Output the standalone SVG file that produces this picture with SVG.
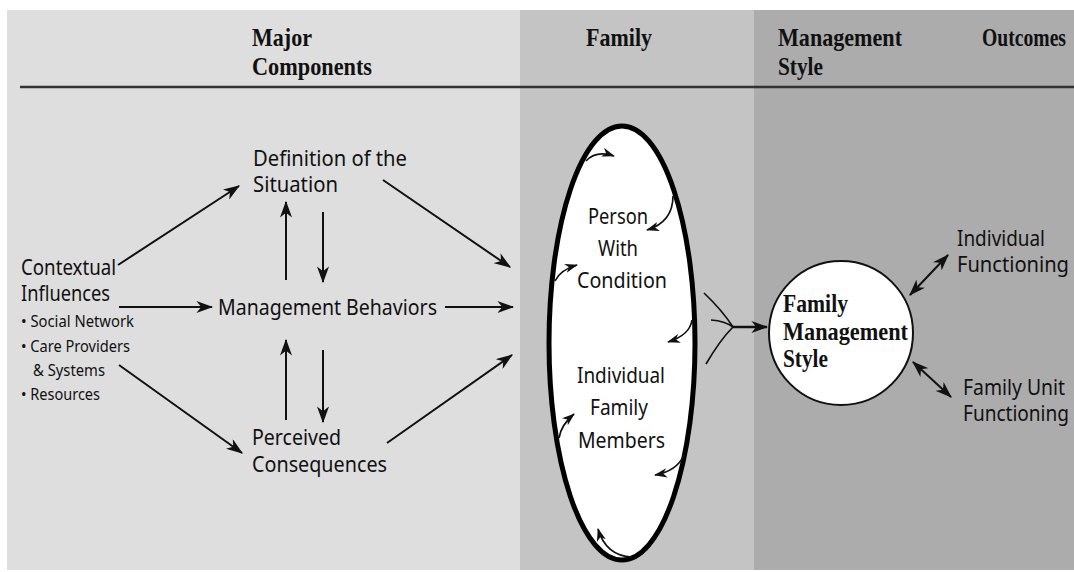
<svg xmlns="http://www.w3.org/2000/svg" width="1074" height="572" viewBox="0 0 1074 572">
<defs>
<style>
.hd{font-family:"Liberation Serif","Times New Roman",serif;font-weight:bold;font-size:26px;fill:#111}
.tx{font-family:"Noto Sans","Open Sans",sans-serif;font-size:21px;fill:#111}
.sm{font-family:"Noto Sans","Open Sans",sans-serif;font-size:16.5px;fill:#111}
.ln{stroke:#111;stroke-width:2;fill:none}
.cv{stroke:#111;stroke-width:1.7;fill:none}
</style>
<marker id="ah" viewBox="0 0 14 10" refX="13" refY="5" markerWidth="17" markerHeight="12" orient="auto-start-reverse" markerUnits="userSpaceOnUse"><path d="M0,0 L14,5 L0,10 L4,5 z" fill="#111"/></marker>
<marker id="as" viewBox="0 0 14 10" refX="13" refY="5" markerWidth="13" markerHeight="9.5" orient="auto" markerUnits="userSpaceOnUse"><path d="M0,0 L14,5 L0,10 L4,5 z" fill="#111"/></marker>
</defs>
<rect x="0" y="0" width="1074" height="572" fill="#ffffff"/>
<rect x="7" y="10" width="513" height="560" fill="#dedede"/>
<rect x="520" y="10" width="234" height="560" fill="#c4c4c4"/>
<rect x="754" y="10" width="320" height="560" fill="#acacac"/>
<line x1="20" y1="87" x2="1074" y2="87" stroke="#333" stroke-width="2.5"/>

<g id="headers">
<text class="hd" x="252" y="46" textLength="60" lengthAdjust="spacingAndGlyphs">Major</text>
<text class="hd" x="252" y="75" textLength="120" lengthAdjust="spacingAndGlyphs">Components</text>
<text class="hd" x="586" y="46" textLength="66" lengthAdjust="spacingAndGlyphs">Family</text>
<text class="hd" x="778" y="46" textLength="124" lengthAdjust="spacingAndGlyphs">Management</text>
<text class="hd" x="778" y="75" textLength="45" lengthAdjust="spacingAndGlyphs">Style</text>
<text class="hd" x="0" y="0" transform="translate(982 46) scale(1 1.24)" style="font-size:21px" textLength="84" lengthAdjust="spacingAndGlyphs">Outcomes</text>
</g>

<g id="contextual">
<text class="tx" x="21" y="275" textLength="95" lengthAdjust="spacingAndGlyphs">Contextual</text>
<text class="tx" x="21" y="301" textLength="89" lengthAdjust="spacingAndGlyphs">Influences</text>
<text class="sm" x="21" y="327" textLength="113" lengthAdjust="spacingAndGlyphs">• Social Network</text>
<text class="sm" x="21" y="352" textLength="109" lengthAdjust="spacingAndGlyphs">• Care Providers</text>
<text class="sm" x="33" y="376" textLength="72" lengthAdjust="spacingAndGlyphs">&amp; Systems</text>
<text class="sm" x="21" y="400" textLength="79" lengthAdjust="spacingAndGlyphs">• Resources</text>
</g>
<g id="definition">
<text class="tx" x="253" y="166" textLength="154" lengthAdjust="spacingAndGlyphs">Definition of the</text>
<text class="tx" x="253" y="192" textLength="85" lengthAdjust="spacingAndGlyphs">Situation</text>
</g>
<g id="behaviors">
<text class="tx" x="218" y="315" textLength="219" lengthAdjust="spacingAndGlyphs">Management Behaviors</text>
</g>
<g id="consequences">
<text class="tx" x="252" y="445" textLength="89" lengthAdjust="spacingAndGlyphs">Perceived</text>
<text class="tx" x="252" y="472" textLength="135" lengthAdjust="spacingAndGlyphs">Consequences</text>
</g>

<g id="family">
<ellipse cx="622" cy="343" rx="73" ry="217" fill="#ffffff" stroke="#000" stroke-width="5"/>
<text class="tx" x="588" y="224" textLength="60" lengthAdjust="spacingAndGlyphs">Person</text>
<text class="tx" x="598" y="256" textLength="40" lengthAdjust="spacingAndGlyphs">With</text>
<text class="tx" x="577" y="288" textLength="90" lengthAdjust="spacingAndGlyphs">Condition</text>
<text class="tx" x="577" y="383" textLength="88" lengthAdjust="spacingAndGlyphs">Individual</text>
<text class="tx" x="590" y="415" textLength="58" lengthAdjust="spacingAndGlyphs">Family</text>
<text class="tx" x="578" y="448" textLength="87" lengthAdjust="spacingAndGlyphs">Members</text>
</g>

<g id="style">
<circle cx="841" cy="333" r="72" fill="#ffffff" stroke="#111" stroke-width="2"/>
<text class="hd" x="783" y="312" textLength="65" lengthAdjust="spacingAndGlyphs">Family</text>
<text class="hd" x="783" y="340" textLength="125" lengthAdjust="spacingAndGlyphs">Management</text>
<text class="hd" x="783" y="367" textLength="45" lengthAdjust="spacingAndGlyphs">Style</text>
</g>

<g id="outcome-individual">
<text class="tx" x="957" y="246" textLength="88" lengthAdjust="spacingAndGlyphs">Individual</text>
<text class="tx" x="957" y="272" textLength="112" lengthAdjust="spacingAndGlyphs">Functioning</text>
</g>
<g id="outcome-family">
<text class="tx" x="963" y="395" textLength="102" lengthAdjust="spacingAndGlyphs">Family Unit</text>
<text class="tx" x="0" y="0" transform="translate(963 421) scale(1 1.05)" style="font-size:20px" textLength="106" lengthAdjust="spacingAndGlyphs">Functioning</text>
</g>

<g id="connectors">
<line class="ln" x1="118" y1="265" x2="239" y2="186" marker-end="url(#ah)"/>
<line class="ln" x1="383" y1="180" x2="510" y2="267" marker-end="url(#ah)"/>
<line class="ln" x1="119" y1="307" x2="212" y2="307" marker-end="url(#ah)"/>
<line class="ln" x1="445" y1="307" x2="513" y2="307" marker-end="url(#ah)"/>
<line class="ln" x1="119" y1="365" x2="242" y2="453" marker-end="url(#ah)"/>
<line class="ln" x1="387" y1="443" x2="512" y2="355" marker-end="url(#ah)"/>
<line class="ln" x1="286" y1="280" x2="286" y2="202" marker-end="url(#ah)"/>
<line class="ln" x1="323" y1="212" x2="323" y2="282" marker-end="url(#ah)"/>
<line class="ln" x1="286" y1="420" x2="286" y2="340" marker-end="url(#ah)"/>
<line class="ln" x1="323" y1="350" x2="323" y2="422" marker-end="url(#ah)"/>

<path class="cv" d="M586,161 Q596,150 614,156" marker-end="url(#as)"/>
<path class="cv" d="M673,196 Q673,222 647,230" marker-end="url(#as)"/>
<path class="cv" d="M555,281 Q560,270 577,265" marker-end="url(#as)"/>
<path class="cv" d="M692,320 Q690,335 668,342" marker-end="url(#as)"/>
<path class="cv" d="M559,438 Q561,425 574,414" marker-end="url(#as)"/>
<path class="cv" d="M684,455 Q677,471 655,475" marker-end="url(#as)"/>
<path class="cv" d="M632,557 Q606,556 598,529" marker-end="url(#as)"/>

<path class="cv" d="M704,293 Q722,310 733,327"/>
<path class="cv" d="M711,320 Q725,321 733,327"/>
<path class="cv" d="M706,364 Q720,340 733,327"/>
<line x1="733" y1="327" x2="767" y2="327" stroke="#111" stroke-width="2.5" marker-end="url(#ah)"/>

<line class="ln" x1="910" y1="295" x2="948" y2="255" marker-start="url(#ah)" marker-end="url(#ah)"/>
<line class="ln" x1="913" y1="362" x2="951" y2="397" marker-start="url(#ah)" marker-end="url(#ah)"/>
</g>
</svg>
